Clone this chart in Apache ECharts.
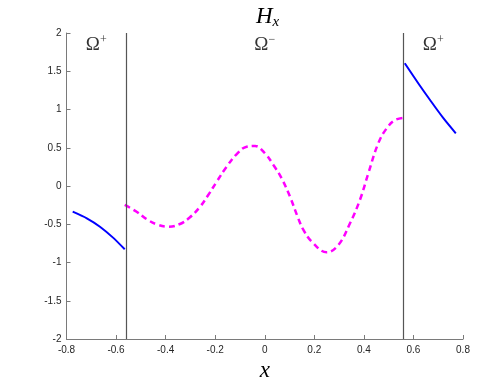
<!DOCTYPE html>
<html>
<head>
<meta charset="utf-8">
<script src="https://cdn.jsdelivr.net/npm/echarts@6/dist/echarts.min.js"></script>
<style>
  html, body { margin: 0; padding: 0; background: #fff; }
  #container { width: 499px; height: 383px; }
</style>
</head>
<body>
<div id="container"></div>
<script>
// interface positions between the regions
const boundaries = [-0.565, 0.565]

// left Omega+ part (solid blue)
const leftX = [-0.775, -0.718, -0.665, -0.611, -0.565]
const leftY = [-0.336, -0.422, -0.532, -0.678, -0.827]

// Omega- part (dashed magenta)
const midX = [-0.565, -0.517, -0.476, -0.436, -0.389, -0.342, -0.302, -0.261, -0.228, -0.194,
  -0.154, -0.113, -0.073, -0.039, 0.001, 0.035, 0.068, 0.102, 0.135, 0.156, 0.19, 0.25, 0.297,
  0.344, 0.384, 0.418, 0.458, 0.492, 0.526, 0.565]
const midY = [-0.248, -0.336, -0.435, -0.501, -0.532, -0.497, -0.409, -0.271, -0.118, 0.056,
  0.252, 0.418, 0.514, 0.523, 0.427, 0.275, 0.101, -0.14, -0.422, -0.575, -0.728, -0.867, -0.771,
  -0.488, -0.183, 0.166, 0.558, 0.754, 0.863, 0.893]

// right Omega+ part (solid blue)
const rightX = [0.565, 0.62, 0.667, 0.72, 0.771]
const rightY = [1.604, 1.34, 1.124, 0.89, 0.689]

// region labels
const regionX = [-0.68, 0, 0.68]
const regionY = [1.84, 1.84, 1.84]
const regionSign = ['+', '−', '+']

const zip = (xs, ys) => xs.map((x, i) => [x, ys[i]])

let myChart = echarts.init(document.getElementById('container'), null, { renderer: 'canvas' })

const serif = 'Liberation Serif, Times New Roman, serif'
const axisGray = '#7a7a7a'
const labelStyle = { color: '#262626', fontSize: 10, fontFamily: 'Liberation Sans, Arial, sans-serif' }

let option = {
  animation: false,
  title: {
    text: '{h|H}{s|x}',
    left: 251,
    top: -2,
    textStyle: {
      rich: {
        h: { fontFamily: serif, fontStyle: 'italic', fontWeight: 'normal', fontSize: 23, color: '#000' },
        s: { fontFamily: serif, fontStyle: 'italic', fontWeight: 'normal', fontSize: 15, color: '#000', padding: [12, 0, 0, 0] }
      }
    }
  },
  grid: { left: 66.5, right: 36, top: 33, bottom: 44, containLabel: false, outerBoundsMode: 'none' },
  xAxis: {
    type: 'value',
    min: -0.8,
    max: 0.8,
    interval: 0.2,
    name: 'x',
    nameLocation: 'middle',
    nameGap: 20,
    nameTextStyle: { fontFamily: serif, fontStyle: 'italic', fontSize: 23, color: '#000' },
    splitLine: { show: false },
    axisLine: { onZero: false, lineStyle: { color: axisGray, width: 1 } },
    axisTick: { inside: true, length: 4, lineStyle: { color: axisGray } },
    axisLabel: Object.assign({ margin: 6, formatter: v => String(Math.round(v * 10) / 10) }, labelStyle)
  },
  yAxis: {
    type: 'value',
    min: -2,
    max: 2,
    interval: 0.5,
    splitLine: { show: false },
    axisLine: { show: true, onZero: false, lineStyle: { color: axisGray, width: 1 } },
    axisTick: { show: true, inside: true, length: 4, lineStyle: { color: axisGray } },
    axisLabel: Object.assign({ margin: 5 }, labelStyle)
  },
  series: [
    {
      type: 'line',
      data: zip(leftX, leftY),
      smooth: 0.2,
      symbol: 'none',
      lineStyle: { color: '#0000ff', width: 2 },
      markLine: {
        silent: true,
        symbol: 'none',
        label: { show: false },
        lineStyle: { color: '#555', width: 1.2, type: 'solid' },
        data: boundaries.map(b => ({ xAxis: b }))
      }
    },
    {
      type: 'line',
      data: zip(midX, midY),
      smooth: 0.4,
      symbol: 'none',
      lineStyle: { color: '#ff00ff', width: 2.5, type: [6, 4] }
    },
    {
      type: 'line',
      data: zip(rightX, rightY),
      smooth: 0.3,
      symbol: 'none',
      lineStyle: { color: '#0000ff', width: 2 }
    },
    {
      type: 'scatter',
      symbolSize: 0,
      data: regionX.map((x, i) => ({ value: [x, regionY[i]], sign: regionSign[i] })),
      label: {
        show: true,
        position: 'inside',
        formatter: p => '{o|Ω}{s|' + p.data.sign + '}',
        rich: {
          o: { fontFamily: serif, fontSize: 19, color: '#000' },
          s: { fontFamily: serif, fontSize: 12, color: '#000', padding: [0, 0, 10, 0] }
        }
      }
    }
  ]
}

option && myChart.setOption(option)
</script>
</body>
</html>
